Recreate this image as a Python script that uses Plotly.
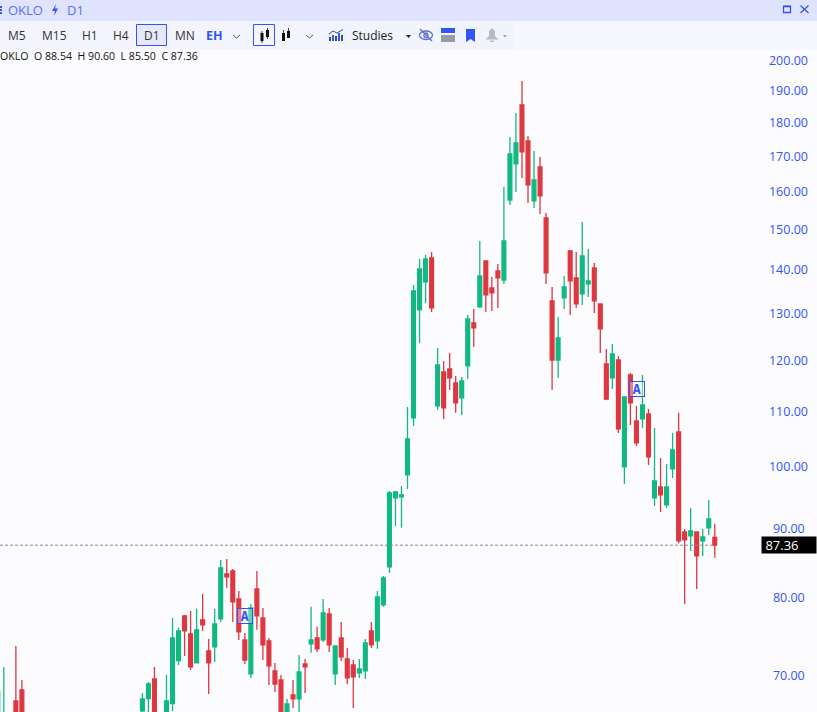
import math
import plotly.graph_objects as go

W, H = 817, 712

candle_index = [0, 1, 3, 4, 24, 25, 26, 28, 29, 30, 31, 32, 33, 34, 35, 36, 37, 38, 39, 40, 41, 42, 43, 44, 45, 46, 47, 48, 49, 50,
                51, 52, 53, 54, 55, 56, 57, 58, 59, 60, 61, 62, 63, 64, 65, 66, 67, 68, 69, 70, 71, 72, 73, 74, 75, 76, 77, 78, 79, 80,
                81, 82, 83, 84, 85, 86, 87, 88, 89, 90, 91, 92, 93, 94, 95, 96, 97, 98, 99, 100, 101, 102, 103, 104, 105, 106, 107, 108, 109, 110,
                111, 112, 113, 114, 115, 116, 117, 118, 119]
opens = [63.72, 64.0, 66.96, 68.24, 65.83, 67.23, 69.52, 65.0, 66.65, 71.73, 77.42, 75.08, 71.45, 76.89, 72.94, 73.44, 77.02, 83.18, 83.61, 79.70, 74.31, 70.12, 81.08, 77.16, 74.19, 70.48, 69.40, 65.0, 67.65, 67.19,
         71.33, 73.81, 74.57, 74.31, 77.69, 70.12, 74.57, 71.94, 71.21, 70.24, 70.48, 75.47, 74.19, 78.89, 84.18, 94.70, 94.86, 98.49, 108.56, 130.54, 136.92, 142.65, 110.81, 117.43, 118.03, 115.24, 112.32, 118.63, 127.66, 131.21,
         141.91, 135.54, 139.53, 137.38, 157.48, 167.48, 185.23, 174.18, 157.22, 166.63, 152.73, 132.55, 119.84, 133.23, 144.37, 137.86, 134.15, 136.46, 140.24, 131.88, 119.04, 116.22, 119.84, 99.85, 116.83, 108.00, 108.37, 109.31, 94.70, 96.50,
         93.58, 99.51, 106.00, 89.36, 88.75, 89.36, 87.99, 89.98, 88.54]
highs = [69.0, 70.97, 73.56, 69.40, 67.89, 69.17, 70.97, 70.00, 77.16, 75.86, 77.56, 78.09, 78.36, 80.39, 74.44, 78.36, 85.18, 85.33, 83.89, 80.80, 75.21, 79.03, 83.61, 78.49, 74.57, 71.45, 70.00, 67.19, 69.40, 72.44,
         71.94, 78.63, 75.99, 79.70, 78.49, 73.56, 76.63, 73.31, 71.81, 71.94, 74.44, 76.63, 80.80, 82.89, 95.84, 95.84, 96.66, 110.62, 136.23, 142.40, 143.38, 144.12, 122.34, 119.64, 121.30, 116.62, 116.42, 129.43, 130.76, 146.84,
         141.91, 138.10, 141.20, 161.03, 175.38, 182.72, 192.97, 175.68, 171.25, 169.49, 154.05, 135.77, 128.98, 138.33, 144.62, 144.12, 151.69, 144.87, 141.43, 131.88, 122.13, 123.17, 120.67, 112.51, 117.23, 110.81, 116.83, 110.24, 106.72, 101.39,
         100.36, 105.81, 109.50, 89.82, 93.10, 89.36, 89.82, 94.37, 90.60]
lows = [62.6, 62.6, 63.7, 63.7, 65.5, 64.8, 64.5, 64.5, 65.83, 71.21, 72.31, 70.60, 71.45, 75.47, 67.77, 71.57, 76.63, 81.22, 76.63, 74.31, 71.33, 69.64, 75.60, 71.81, 68.82, 68.00, 64.8, 64.5, 66.17, 65.50,
        67.89, 72.69, 72.81, 74.06, 72.81, 68.82, 71.69, 68.93, 66.17, 69.64, 69.52, 73.31, 73.19, 78.63, 83.32, 90.28, 89.98, 96.17, 107.09, 123.38, 132.10, 130.09, 110.06, 108.37, 113.87, 109.50, 109.12, 116.02, 122.55, 130.98,
        130.09, 130.32, 130.98, 136.46, 156.16, 159.67, 163.52, 156.69, 155.37, 153.78, 136.46, 113.87, 116.22, 130.76, 129.43, 130.98, 131.65, 133.46, 129.87, 121.30, 111.93, 114.07, 105.81, 96.99, 107.27, 103.49, 106.72, 100.19, 93.42, 92.47,
        93.10, 97.98, 87.70, 79.03, 86.51, 81.08, 85.77, 88.91, 85.50]
closes = [68.00, 65.3, 64.82, 64.82, 67.19, 68.93, 65.0, 66.96, 74.57, 75.47, 75.47, 70.97, 75.60, 76.24, 71.45, 76.37, 84.04, 82.75, 79.29, 75.34, 71.81, 78.49, 77.42, 73.69, 71.09, 68.93, 65.5, 66.62, 67.19, 70.36,
          70.97, 74.31, 73.19, 77.83, 73.69, 73.56, 72.19, 69.64, 69.76, 70.73, 73.94, 73.69, 79.97, 82.61, 95.52, 95.68, 95.19, 104.72, 134.85, 140.00, 142.40, 130.98, 118.84, 110.43, 116.22, 111.37, 115.63, 128.53, 126.59, 138.33,
          133.92, 134.39, 137.86, 146.84, 170.37, 173.59, 170.95, 161.58, 162.95, 158.57, 139.05, 119.84, 124.43, 135.77, 137.15, 131.88, 143.14, 137.15, 132.55, 126.37, 112.12, 121.09, 106.54, 112.51, 111.37, 104.02, 110.99, 101.57, 97.48, 95.19,
          96.50, 102.79, 87.99, 88.14, 89.52, 85.77, 88.60, 91.36, 87.36]
tick_values = [200, 190, 180, 170, 160, 150, 140, 130, 120, 110, 100, 90, 80, 70]
tick_labels = ["200.00", "190.00", "180.00", "170.00", "160.00", "150.00", "140.00", "130.00", "120.00", "110.00", "100.00", "90.00", "80.00", "70.00"]
last_price = 87.36
alert_index = [41, 106]
alert_price = [77.46, 114.07]
timeframes = ["M5", "M15", "H1", "H4", "D1", "MN"]
timeframe_x = [17, 54, 90, 121, 151.5, 185]

GREEN, RED = "#10B981", "#DE3740"
BLUE = "#3355F5"
BG = "#FCFCFF"
FONT = "Open Sans, Noto Sans, sans-serif"


def px(x):
    return x / W


def py(y):
    return 1 - y / H


def rect(x0, y0, x1, y1, fill=None, line=None, lw=1):
    return dict(type="rect", xref="paper", yref="paper", x0=px(x0), x1=px(x1), y0=py(y0), y1=py(y1),
                fillcolor=fill or "rgba(0,0,0,0)", line=dict(color=line or "rgba(0,0,0,0)", width=lw if line else 0))


def poly(points, fill=None, line=None, lw=1, closed=True):
    d = "M " + " L ".join(f"{px(a):.5f} {py(b):.5f}" for a, b in points) + (" Z" if closed else "")
    return dict(type="path", xref="paper", yref="paper", path=d,
                fillcolor=fill or "rgba(0,0,0,0)", line=dict(color=line or "rgba(0,0,0,0)", width=lw if line else 0))


def oval(x0, y0, x1, y1, line, lw=1.3):
    return dict(type="circle", xref="paper", yref="paper", x0=px(x0), x1=px(x1), y0=py(y0), y1=py(y1),
                line=dict(color=line, width=lw))


def label(x, y, text, size=12, color="#222", anchor="center", bold=False):
    return dict(xref="paper", yref="paper", x=px(x), y=py(y), text=f"<b>{text}</b>" if bold else text,
                showarrow=False, xanchor=anchor, yanchor="middle",
                font=dict(family=FONT, size=size, color=color))


fig = go.Figure()
x_left, x_right = 2.2 / 6.025, 2.2 / 6.025 + W / 6.025

fig.add_trace(go.Scatter(x=[x_left, 119], y=[last_price, last_price], mode="lines",
                         line=dict(color="#8a8a8a", width=1, dash="3px,2px"), hoverinfo="skip", showlegend=False))
fig.add_trace(go.Candlestick(x=candle_index, open=opens, high=highs, low=lows, close=closes,
                             increasing=dict(line=dict(color=GREEN, width=1.3), fillcolor=GREEN),
                             decreasing=dict(line=dict(color=RED, width=1.3), fillcolor=RED),
                             whiskerwidth=0, showlegend=False))

shapes = [
    rect(0, 0, W, 21, "#DFE3FD"),
    rect(0, 21, W, 50, "#F5F6FE"),
    rect(0, 21, 323, 50, "#F3F4FD"),
    rect(323, 21, 514, 50, "#F1F3FD"),
    rect(136.5, 24.5, 166.5, 45.5, "#E5E9FB", BLUE, 1),
    rect(253.5, 24.5, 274.5, 45.5, None, BLUE, 1),
    # header icons
    rect(0, 6, 2, 8, BLUE), rect(0, 9, 2, 11, BLUE), rect(0, 12, 2, 14, BLUE),
    poly([(56, 4), (52, 11), (55, 11), (54, 16), (58, 8.5), (55, 8.5)], BLUE),
    rect(783.5, 6.5, 790.5, 12.5, None, BLUE, 1.3), rect(783.5, 5.5, 790.5, 7, BLUE),
    poly([(800.5, 5.5), (808.5, 13)], None, BLUE, 1.3, False),
    poly([(808.5, 5.5), (800.5, 13)], None, BLUE, 1.3, False),
    # chevrons
    poly([(233, 35), (236.5, 38), (240, 35)], None, "#555", 1, False),
    poly([(306, 35), (309.5, 38), (313, 35)], None, "#555", 1, False),
    # candle icons
    rect(260.5, 33, 263.5, 41, "#111"), rect(261.6, 31, 262.4, 43, "#111"),
    rect(266, 30, 269, 37, "#111"), rect(267.1, 28, 267.9, 39, "#111"),
    rect(282, 33, 285, 41, "#111"), rect(283.1, 30, 283.9, 41, "#111"),
    rect(287, 31, 290, 38, "#111"), rect(288.1, 28, 288.9, 38, "#111"),
    # studies icon
    rect(329, 37, 331, 41, "#3B4A8C"), rect(332, 35, 334, 41, BLUE), rect(335, 36, 337, 41, "#3B4A8C"),
    rect(338, 33, 340, 41, BLUE), rect(341, 35, 343, 41, "#3B4A8C"),
    poly([(329, 34), (333, 31), (337, 33), (343, 29.5)], None, "#3B4A8C", 1, False),
    poly([(406, 35), (411, 35), (408.5, 38)], "#222"),
    # eye
    oval(419.5, 31, 432.5, 39.5, "#5B6FCB"),
    oval(424, 33, 428, 37.5, "#5B6FCB"),
    poly([(420, 29), (432, 41)], None, "#5B6FCB", 1.3, False),
    # layout card
    rect(441, 28, 455, 33, BLUE), rect(441, 35, 455, 42, "#9A9AA2"),
    # bookmark
    poly([(466, 29), (475, 29), (475, 42), (470.5, 39), (466, 42)], BLUE),
    # bell
    poly([(492, 28), (495, 31), (495, 36), (498.5, 39.5), (485.5, 39.5), (489, 36), (489, 31)], "#B9BAC0"),
    rect(490, 40.5, 494, 42, "#B9BAC0"),
    poly([(503, 35), (507, 35), (505, 37.5)], "#A0A0A8"),
]

annotations = [
    label(6, 9.5, "OKLO", 13, "#5C73F5", "left"),
    label(65, 9.5, "D1", 13, "#5C73F5", "left"),
    label(214.5, 35.5, "EH", 12.5, BLUE, bold=True),
    label(350, 35.5, "Studies", 12, "#222", "left"),
    label(-2, 56, "OKLO&nbsp;&nbsp;O 88.54&nbsp;&nbsp;H 90.60&nbsp;&nbsp;L 85.50&nbsp;&nbsp;C 87.36", 10.6, "#111", "left"),
]
annotations += [label(x, 35.5, t, 12, "#333") for x, t in zip(timeframe_x, timeframes)]
annotations.append(dict(xref="paper", yref="y", x=1, y=math.log10(last_price), text="&nbsp;87.36", showarrow=False,
                        xanchor="right", yanchor="middle", width=54, height=16, bgcolor="#000000", align="left",
                        borderpad=0, font=dict(family=FONT, size=13, color="#FFFFFF")))
for i, p in zip(alert_index, alert_price):
    annotations.append(dict(xref="x", yref="y", x=i + 0.02, y=math.log10(p), text="<b>A</b>", showarrow=False,
                            xanchor="center", yanchor="middle", width=14, height=14, borderpad=0, borderwidth=1,
                            bordercolor=BLUE, font=dict(family="DejaVu Sans Mono", size=14, color=BLUE),
                            bgcolor="rgba(255,255,255,0.35)"))

fig.update_layout(
    width=W, height=H, margin=dict(l=0, r=0, t=0, b=0),
    paper_bgcolor=BG, plot_bgcolor=BG, showlegend=False,
    shapes=shapes, annotations=annotations,
    boxgap=0.1,
    xaxis=dict(range=[x_left, x_right], visible=False, rangeslider=dict(visible=False), fixedrange=True),
    yaxis=dict(type="log", domain=[0, 662 / 712], range=[math.log10(65.71), math.log10(203.44)],
               side="right", tickmode="array", tickvals=tick_values,
               ticktext=[t + "&nbsp;" if len(t) == 5 else t for t in tick_labels],
               ticks="", ticklabelposition="inside", ticklabelstandoff=6, ticklabelshift=1,
               showgrid=False, zeroline=False, showline=False,
               tickfont=dict(family=FONT, size=12.5, color=BLUE)),
)

fig.write_html("out.html", config={"displayModeBar": False},
               post_script="document.body.style.margin='0';document.body.style.overflow='hidden';")
